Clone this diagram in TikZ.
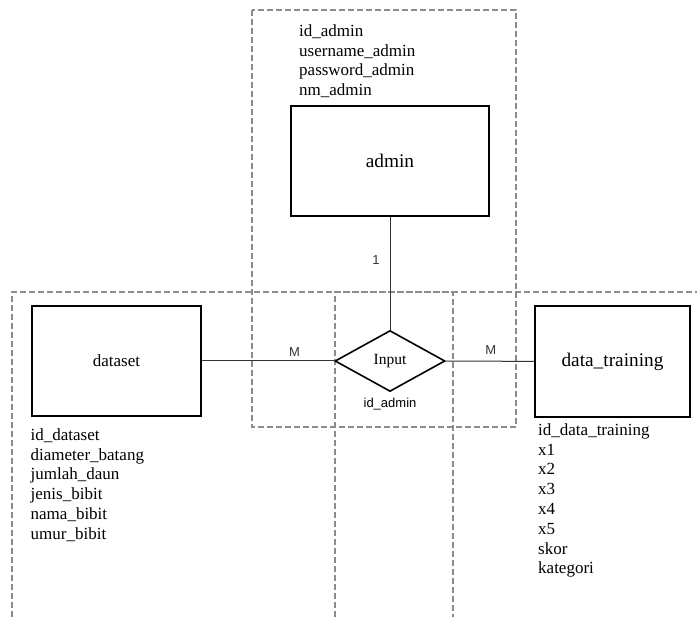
\documentclass[tikz,border=0pt]{standalone}
\usepackage{fontspec}
\setmainfont{Liberation Serif}
\newfontfamily\arialfont{Liberation Sans}
\usetikzlibrary{shapes.geometric,positioning}
\begin{document}
\begin{tikzpicture}[x=1pt, y=-1pt,
                entity/.style={draw, line width=2pt, rectangle, inner sep=0pt},
                relation/.style={draw, line width=1.6pt, diamond, inner sep=0pt, minimum width=110pt, minimum height=61pt, font=\fontsize{15.5}{18}\selectfont},
                attrib/.style={anchor=north west, inner sep=0pt, align=left, font=\fontsize{17}{19.8}\selectfont},
                card/.style={inner sep=0pt, font=\arialfont\fontsize{13}{15}\selectfont},
                link/.style={draw, line width=1pt, black!80},
                area/.style={draw, line width=1.5pt, black!45, dash pattern=on 6pt off 3pt}]
                \useasboundingbox (0,0) rectangle (697,617);
                \draw [area] (252,10) rectangle (516,427);
                \draw [area] (12,617) -- (12,292) -- (697,292);
                \draw [area] (335,617) -- (335,292) -- (453,292) -- (453,617);
                \node [entity, minimum width=198pt, minimum height=110pt, font=\fontsize{19.3}{22}\selectfont] (admin) at (390,161) {admin};
                \node [entity, minimum width=169pt, minimum height=110pt, font=\fontsize{17}{20}\selectfont] (dataset) at (116.5,361) {dataset};
                \node [entity, minimum width=155pt, minimum height=111pt, font=\fontsize{19.3}{22}\selectfont] (training) at (612.5,361.5) {data\_training};
                \node [relation, fill=white] (input) at (390,361) {Input};
                \node [card, below=6pt of input] (inputkey) {id\_admin};
                \node [attrib] (adminattr) at (299,24.4) {id\_admin\\username\_admin\\password\_admin\\nm\_admin};
                \node [attrib] (datasetattr) at (30.5,428.4) {id\_dataset\\diameter\_batang\\jumlah\_daun\\jenis\_bibit\\nama\_bibit\\umur\_bibit};
                \node [attrib] (trainingattr) at (538,423.4) {id\_data\_training\\x1\\x2\\x3\\x4\\x5\\skor\\kategori};
                \draw [link] (admin) -- node [card, pos=0.38, left=10pt] (onelabel) {1} (input);
                \draw [link] (dataset) -- node [card, pos=0.70, above=4pt] (mleft) {M} (input);
                \draw [link] (input) -- node [card, pos=0.51, above=6pt] (mright) {M} (training);
            \end{tikzpicture}
\end{document}
